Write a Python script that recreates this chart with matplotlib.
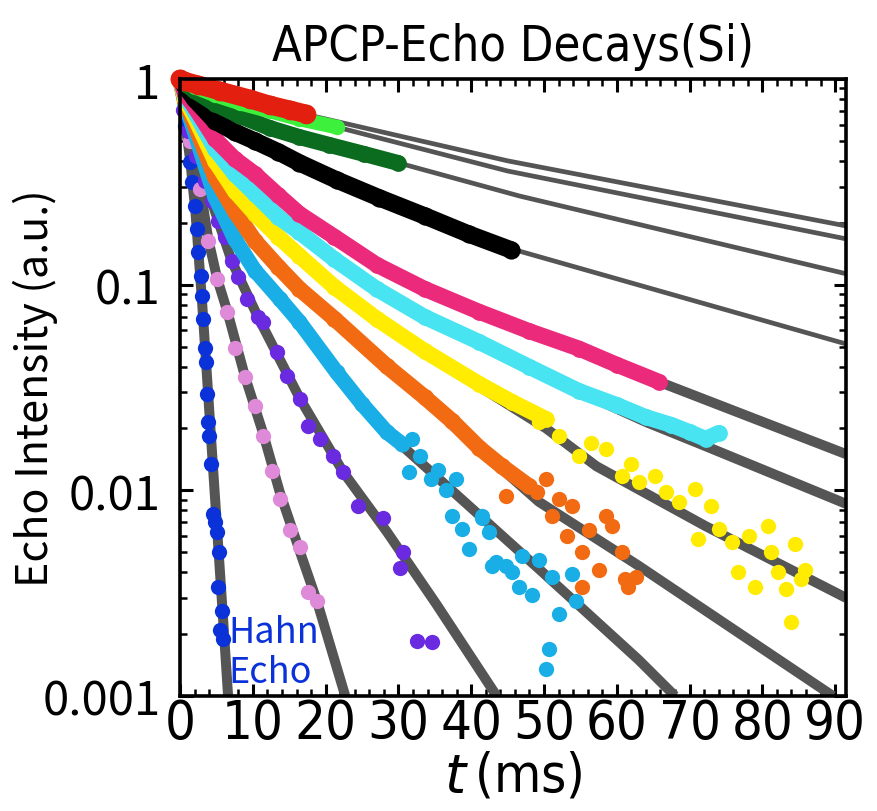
import numpy as np
import matplotlib
matplotlib.use('Agg')
import matplotlib.pyplot as plt
from matplotlib import rcParams, font_manager
from matplotlib.font_manager import FontProperties
from matplotlib.ticker import MultipleLocator, FixedLocator, FixedFormatter, LogLocator, NullFormatter

# fonts: look for a condensed grotesque for the title / x axis
cands = []
for f in font_manager.fontManager.ttflist:
    fn = f.fname
    if ('Narrow' in fn or 'Condensed' in fn) and 'Sans' in fn and 'Mono' not in fn \
            and 'Bold' not in fn and 'Italic' not in fn and 'Oblique' not in fn \
            and 'Light' not in fn and 'Medium' not in fn and 'Semi' not in fn \
            and 'Extra' not in fn and 'Black' not in fn and 'Thin' not in fn:
        cands.append(fn)
cands.sort(key=lambda s: (0 if 'Liberation' in s else 1 if 'DejaVu' in s else 2, s))
if cands:
    narrow = FontProperties(fname=cands[0])
    title_size, xtick_size = 35, 39
else:
    narrow = FontProperties(family='Liberation Sans')
    title_size, xtick_size = 33, 34
gothic = 'Noto Sans CJK JP'
rcParams['mathtext.fontset'] = 'custom'
rcParams['mathtext.it'] = 'Liberation Sans:italic'
rcParams['mathtext.rm'] = 'Liberation Sans'

###############################################################################
# data (t in ms, normalised echo intensity)

# slow decays, dense enough to read as bands
red_t = [0, 0.5, 2.5, 5.5, 9.6, 12.3, 15.1, 17.3]
red_y = [1.0, 0.978, 0.935, 0.874, 0.799, 0.747, 0.707, 0.676]

lgreen_t = [0, 0.7, 2.0, 4.8, 8.2, 12.3, 16.4, 21.5]
lgreen_y = [1.0, 0.967, 0.914, 0.836, 0.764, 0.699, 0.639, 0.584]

dgreen_t = [0, 0.7, 2.0, 4.8, 8.2, 12.3, 16.4, 20.5, 25.3, 29.9]
dgreen_y = [1.0, 0.946, 0.874, 0.756, 0.661, 0.578, 0.522, 0.478, 0.432, 0.391]

black_t = [0, 0.7, 2.0, 4.8, 7.5, 10.3, 13.5, 16.4, 21.5, 27.4, 33.6, 39.7, 45.5]
black_y = [1.0, 0.925, 0.799, 0.625, 0.552, 0.499, 0.442, 0.391, 0.323, 0.264, 0.216, 0.176, 0.1475]

magenta_t = [0, 0.7, 2.0, 4.8, 7.5, 10.3, 13.5, 16.4, 21.2, 27.0, 33.6, 41.1, 48.0, 54.8, 60.0, 65.8]
magenta_y = [1.0, 0.845, 0.731, 0.511, 0.409, 0.345, 0.272, 0.221, 0.171, 0.125, 0.0954, 0.0738,
             0.0594, 0.0489, 0.0408, 0.0337]

cyan_t = [0, 0.7, 2.0, 4.8, 7.5, 10.3, 13.5, 16.4, 21.2, 27.0, 33.6, 41.1, 48.0, 54.8, 60.0, 64.0,
          67.5, 70.0, 72.2, 74.0]
cyan_y = [1.0, 0.827, 0.691, 0.457, 0.345, 0.276, 0.213, 0.180, 0.133, 0.0954, 0.0697, 0.0526,
          0.0398, 0.0304, 0.026, 0.0227, 0.0208, 0.0192, 0.0178, 0.019]

yellow_t = [0, 0.7, 2.0, 4.8, 7.5, 10.3, 13.5, 16.4, 21.2, 27.0, 33.6, 41.1, 45.6, 50.3]
yellow_y = [1.0, 0.799, 0.653, 0.40, 0.286, 0.221, 0.171, 0.138, 0.0975, 0.0683, 0.0476, 0.0329,
            0.0269, 0.0222]
yellow_tail_t = [49.3, 52.1, 54.8, 58.5, 60.7, 63.0, 65.3, 66.7, 68.5, 70.8, 71.2, 73.0, 74.0, 75.8,
                 78.1, 80.8, 81.2, 82.2, 84.5, 85.3, 76.7, 79.0, 84.0, 83.2, 85.9, 56.5, 62.0]
yellow_tail_y = [0.0215, 0.0184, 0.0147, 0.0159, 0.0117, 0.0110, 0.0117, 0.0098, 0.0088, 0.0102, 0.0058,
                 0.0084, 0.0065, 0.0056, 0.0060, 0.0067, 0.0050, 0.0040, 0.0055, 0.0037, 0.0040, 0.0034,
                 0.0023, 0.0033, 0.0041, 0.0170, 0.0135]

orange_t = [0, 0.7, 2.0, 4.8, 7.5, 10.3, 13.5, 16.4, 21.2, 28.4, 33.6, 37.4, 41.1, 44.2, 47.9]
orange_y = [1.0, 0.782, 0.604, 0.334, 0.228, 0.163, 0.122, 0.0954, 0.0683, 0.0402, 0.0284, 0.0217,
            0.0161, 0.0131, 0.0105]
orange_tail_t = [44.8, 50.3, 52.1, 53.8, 51.1, 53.2, 55.2, 56.2, 58.5, 59.3, 57.5, 55.2, 60.7, 61.2,
                 62.6, 61.6, 49.0]
orange_tail_y = [0.0094, 0.0114, 0.0091, 0.0084, 0.0075, 0.0060, 0.0050, 0.0064, 0.0075, 0.0067, 0.0041,
                 0.0034, 0.0050, 0.0037, 0.0038, 0.0034, 0.0098]

sky_t = [0, 0.7, 2.0, 4.8, 7.5, 10.3, 13.7, 16.4, 21.5, 25.0, 28.4, 30.5]
sky_y = [1.0, 0.756, 0.552, 0.267, 0.167, 0.117, 0.0853, 0.0659, 0.0376, 0.0263, 0.0192, 0.0168]
sky_tail_t = [31.9, 32.9, 31.5, 34.5, 37.9, 37.4, 38.8, 39.7, 41.5, 43.4, 45.6, 42.5, 41.5, 42.9, 44.8,
              46.6, 48.4, 47.0, 49.3, 51.1, 53.8, 54.4, 52.1, 50.7, 50.3, 35.5, 36.5]
sky_tail_y = [0.0178, 0.0147, 0.0123, 0.0113, 0.0113, 0.0075, 0.0065, 0.0052, 0.0075, 0.0045, 0.0040,
              0.0063, 0.0073, 0.0043, 0.0043, 0.0034, 0.0031, 0.0048, 0.0046, 0.0038, 0.0039, 0.0029,
              0.0025, 0.0017, 0.00135, 0.0125, 0.0100]

# fast decays, separate points
purple_t = [0, 0.4, 1.1, 2.2, 3.4, 4.4, 5.2, 6.2, 7.1, 7.9, 9.2, 10.7, 11.4, 13.3, 14.7, 16.5, 17.6,
            19.2, 21.0, 22.4, 24.5, 27.9, 30.6, 30.2, 32.6, 34.6]
purple_y = [1.0, 0.71, 0.56, 0.42, 0.319, 0.255, 0.204, 0.171, 0.130, 0.109, 0.085, 0.0697, 0.066,
            0.047, 0.036, 0.0278, 0.0206, 0.0178, 0.0147, 0.0123, 0.0084, 0.0073, 0.0050, 0.0042,
            0.00185, 0.00183]

pink_t = [0, 0.8, 1.4, 2.75, 3.85, 5.1, 6.45, 7.55, 8.95, 10.3, 11.4, 12.6, 13.7, 15.1, 16.5, 17.6, 18.8]
pink_y = [1.0, 0.78, 0.50, 0.292, 0.163, 0.107, 0.074, 0.049, 0.0356, 0.0257, 0.0184, 0.0124, 0.0091,
          0.0064, 0.0053, 0.0032, 0.0029]

blue_t = [0, 0.7, 1.4, 1.65, 2.05, 2.35, 2.5, 2.9, 3.0, 3.15, 3.45, 3.55, 3.7, 3.85, 4.0, 4.25, 4.55,
          4.8, 5.1, 5.35, 5.2, 5.75, 5.5, 5.9]
blue_y = [1.0, 0.59, 0.395, 0.316, 0.241, 0.187, 0.144, 0.110, 0.088, 0.068, 0.049, 0.042, 0.0294,
          0.0215, 0.0184, 0.0134, 0.0077, 0.0070, 0.0063, 0.0050, 0.0034, 0.0026, 0.0021, 0.0019]

# fitted curves (gray)
red_fit_t = [12.0, 17.0, 45.0, 91.5]
red_fit_y = [0.747, 0.676, 0.40, 0.193]
lgreen_fit_t = [16.0, 21.5, 45.0, 91.5]
lgreen_fit_y = [0.639, 0.584, 0.357, 0.167]
dgreen_fit_t = [25.0, 30.0, 46.6, 91.5]
dgreen_fit_y = [0.432, 0.391, 0.27, 0.113]
black_fit_t = [40.0, 46.2, 91.5]
black_fit_y = [0.176, 0.147, 0.0515]
magenta_fit_t = [55.0, 65.8, 91.5]
magenta_fit_y = [0.0487, 0.0337, 0.015]
cyan_fit_t = [55.0, 64.0, 72.2, 91.5]
cyan_fit_y = [0.030, 0.0215, 0.0164, 0.0086]
yellow_fit_t = [33.6, 41.1, 50.3, 57.2, 72.2, 91.5]
yellow_fit_y = [0.0476, 0.0320, 0.0200, 0.0131, 0.0067, 0.0030]
orange_fit_t = [28.4, 41.1, 49.3, 63.0, 89.7]
orange_fit_y = [0.0402, 0.0159, 0.0088, 0.0043, 0.001]
sky_fit_t = [0, 0.7, 2.0, 4.8, 7.5, 10.3, 16.4, 21.5, 28.4, 39.7, 49.3, 63.0, 68.0]
sky_fit_y = [1.0, 0.756, 0.552, 0.267, 0.167, 0.117, 0.0659, 0.0376, 0.0192, 0.0084, 0.00415, 0.0015, 0.001]
purple_fit_t = [0, 1.1, 3.4, 7.1, 10.7, 16.5, 22.4, 28.4, 35.2, 43.5]
purple_fit_y = [1.0, 0.56, 0.319, 0.130, 0.0697, 0.0278, 0.0123, 0.0063, 0.0028, 0.001]
pink_fit_t = [0, 1.4, 2.8, 3.9, 5.1, 6.5, 8.9, 11.4, 13.7, 16.5, 18.8, 22.7]
pink_fit_y = [1.0, 0.50, 0.29, 0.165, 0.107, 0.074, 0.036, 0.0190, 0.0098, 0.0050, 0.0029, 0.001]
blue_fit_t = [0, 0.7, 1.4, 2.1, 3.0, 4.5, 5.9, 6.6]
blue_fit_y = [1.0, 0.62, 0.40, 0.23, 0.085, 0.0134, 0.0024, 0.001]

c_red = '#e3200f'
c_lgreen = '#3cf03c'
c_dgreen = '#0b6b1e'
c_black = '#000000'
c_magenta = '#ec2a7c'
c_cyan = '#48e4f2'
c_yellow = '#ffec00'
c_orange = '#f26b12'
c_sky = '#1aaee6'
c_purple = '#6a2ae0'
c_pink = '#de8ad8'
c_blue = '#0b32d8'
c_fit = '#555555'

###############################################################################
fig = plt.figure(figsize=(8.77, 8.12), dpi=100)
ax = fig.add_axes([0.2053, 0.1416, 0.7594, 0.7599])
ax.set_yscale('log')

# fits underneath the data
for ft, fy in [(red_fit_t, red_fit_y), (lgreen_fit_t, lgreen_fit_y),
               (dgreen_fit_t, dgreen_fit_y), (black_fit_t, black_fit_y)]:
    ax.plot(ft, fy, '-', color=c_fit, lw=3.4, zorder=2)
for ft, fy in [(magenta_fit_t, magenta_fit_y), (cyan_fit_t, cyan_fit_y),
               (yellow_fit_t, yellow_fit_y), (orange_fit_t, orange_fit_y),
               (sky_fit_t, sky_fit_y), (purple_fit_t, purple_fit_y),
               (pink_fit_t, pink_fit_y), (blue_fit_t, blue_fit_y)]:
    ax.plot(ft, fy, '-', color=c_fit, lw=7.2, zorder=2, solid_capstyle='butt')


def band(t, y, c, w):
    ax.plot(t, y, '-', color=c, lw=w, solid_capstyle='round', solid_joinstyle='round',
            zorder=3, clip_on=False)
    ax.plot(t, y, 'o', color=c, ms=w * 1.05, mec='none', zorder=3, clip_on=False)


def dots(t, y, c):
    ax.plot(t, y, 'o', color=c, ms=11, mec='none', zorder=3, clip_on=False)


dots(blue_t, blue_y, c_blue)
dots(pink_t, pink_y, c_pink)
dots(purple_t, purple_y, c_purple)
band(sky_t, sky_y, c_sky, 11)
dots(sky_tail_t, sky_tail_y, c_sky)
band(orange_t, orange_y, c_orange, 11.5)
dots(orange_tail_t, orange_tail_y, c_orange)
band(yellow_t, yellow_y, c_yellow, 11.5)
dots(yellow_tail_t, yellow_tail_y, c_yellow)
band(cyan_t, cyan_y, c_cyan, 11.5)
band(magenta_t, magenta_y, c_magenta, 11.5)
band(black_t, black_y, c_black, 12.5)
band(dgreen_t, dgreen_y, c_dgreen, 11.5)
band(lgreen_t, lgreen_y, c_lgreen, 10.5)
band(red_t, red_y, c_red, 13.5)

ax.text(6.6, 0.0025, 'Hahn\nEcho', color=c_blue, fontsize=26, family=gothic,
        ha='left', va='top', linespacing=1.12, zorder=4)

ax.set_xlim(0, 91.5)
ax.set_ylim(0.001, 1)

ax.xaxis.set_major_locator(MultipleLocator(10))
ax.xaxis.set_minor_locator(MultipleLocator(2))
ax.yaxis.set_major_locator(FixedLocator([0.001, 0.01, 0.1, 1]))
ax.yaxis.set_major_formatter(FixedFormatter(['0.001', '0.01', '0.1', '1']))
ax.yaxis.set_minor_locator(LogLocator(base=10, subs=np.arange(2, 10), numticks=20))
ax.yaxis.set_minor_formatter(NullFormatter())

ax.tick_params(axis='both', which='major', direction='in', length=9, width=2.2,
               top=True, right=True)
ax.tick_params(axis='both', which='minor', direction='in', length=5, width=1.8,
               top=True, right=True)
ax.tick_params(axis='x', pad=1)
ax.tick_params(axis='y', labelsize=34, pad=14)
for lab in ax.get_xticklabels():
    lab.set_fontproperties(narrow)
    lab.set_fontsize(xtick_size)
for lab in ax.get_yticklabels():
    lab.set_family(gothic)
for sp in ax.spines.values():
    sp.set_linewidth(2.6)
    sp.set_zorder(5)

ax.set_title('APCP-Echo Decays(Si)', fontproperties=narrow, fontsize=title_size, pad=14)
ax.set_xlabel(r'$t\,$(ms)', fontproperties=narrow, fontsize=xtick_size, labelpad=0)
ax.set_ylabel('Echo Intensity (a.u.)', fontsize=31, family=gothic)
ax.yaxis.set_label_coords(-0.183, 0.5)

fig.savefig('out.png', dpi=100, facecolor='white')
